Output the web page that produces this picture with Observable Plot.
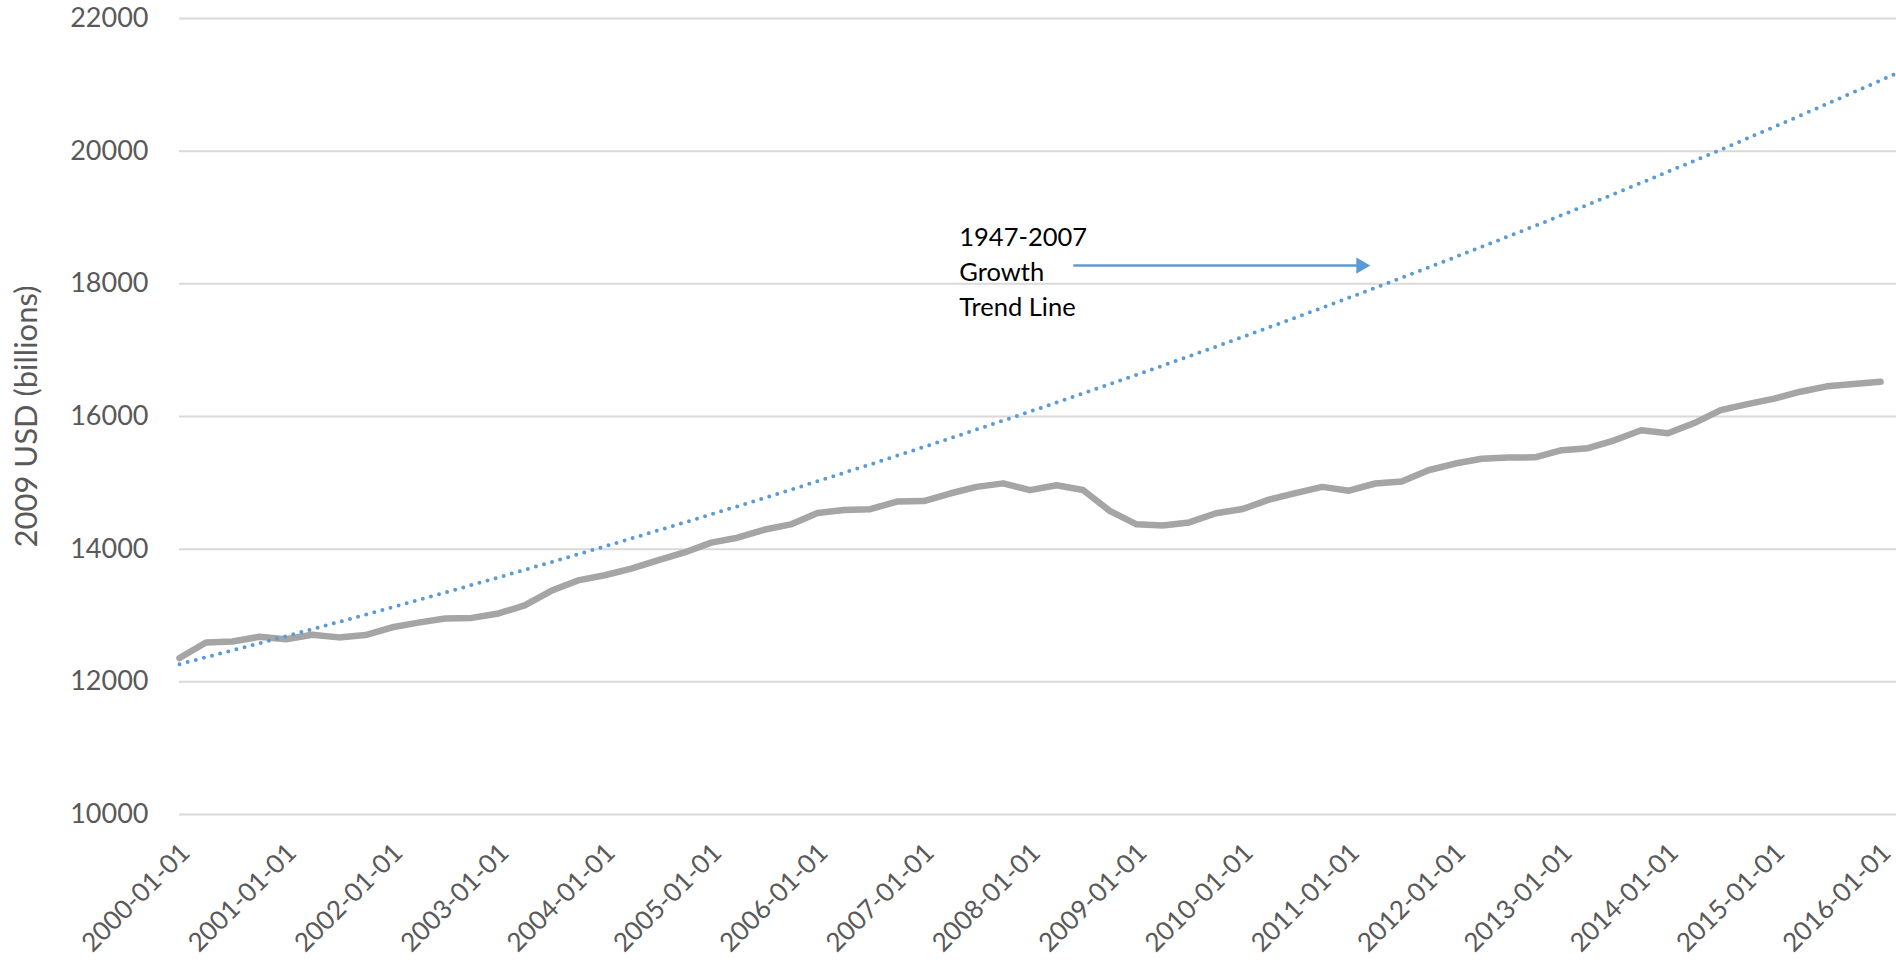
<!DOCTYPE html>
<html>
<head>
<meta charset="utf-8">
<script src="https://cdn.jsdelivr.net/npm/d3@7"></script>
<script src="https://cdn.jsdelivr.net/npm/@observablehq/plot@0.6"></script>
<style>
  html, body { margin: 0; padding: 0; background: #ffffff; overflow: hidden; }
  #chart svg { display: block; }
</style>
</head>
<body>
<div id="chart"></div>
<script>
// ---- Data ----
const quarterDates = [
  "2000-01-01","2000-04-01","2000-07-01","2000-10-01",
  "2001-01-01","2001-04-01","2001-07-01","2001-10-01",
  "2002-01-01","2002-04-01","2002-07-01","2002-10-01",
  "2003-01-01","2003-04-01","2003-07-01","2003-10-01",
  "2004-01-01","2004-04-01","2004-07-01","2004-10-01",
  "2005-01-01","2005-04-01","2005-07-01","2005-10-01",
  "2006-01-01","2006-04-01","2006-07-01","2006-10-01",
  "2007-01-01","2007-04-01","2007-07-01","2007-10-01",
  "2008-01-01","2008-04-01","2008-07-01","2008-10-01",
  "2009-01-01","2009-04-01","2009-07-01","2009-10-01",
  "2010-01-01","2010-04-01","2010-07-01","2010-10-01",
  "2011-01-01","2011-04-01","2011-07-01","2011-10-01",
  "2012-01-01","2012-04-01","2012-07-01","2012-10-01",
  "2013-01-01","2013-04-01","2013-07-01","2013-10-01",
  "2014-01-01","2014-04-01","2014-07-01","2014-10-01",
  "2015-01-01","2015-04-01","2015-07-01","2015-10-01",
  "2016-01-01"
];
const realGdp = [
  12359, 12592, 12608, 12679,
  12643, 12710, 12670, 12705,
  12822, 12893, 12956, 12964,
  13031, 13152, 13372, 13529,
  13607, 13706, 13831, 13950,
  14099, 14173, 14292, 14373,
  14546, 14590, 14603, 14717,
  14726, 14839, 14939, 14992,
  14890, 14963, 14892, 14577,
  14375, 14356, 14403, 14542,
  14605, 14746, 14846, 14939,
  14881, 14990, 15021, 15190,
  15291, 15362, 15381, 15384,
  15492, 15522, 15641, 15794,
  15747, 15901, 16095, 16187,
  16269, 16374, 16455, 16491,
  16525
];
const trendDates = [
  "2000-01-01","2001-01-01","2002-01-01","2003-01-01","2004-01-01",
  "2005-01-01","2006-01-01","2007-01-01","2008-01-01","2009-01-01",
  "2010-01-01","2011-01-01","2012-01-01","2013-01-01","2014-01-01",
  "2015-01-01","2016-01-01","2016-02-25"
];
const trendValues = [
  12266, 12688, 13124, 13575, 14042,
  14525, 15024, 15541, 16075, 16628,
  17200, 17791, 18403, 19035, 19690,
  20367, 21067, 21174
];
const xTickLabels = [
  "2000-01-01","2001-01-01","2002-01-01","2003-01-01","2004-01-01",
  "2005-01-01","2006-01-01","2007-01-01","2008-01-01","2009-01-01",
  "2010-01-01","2011-01-01","2012-01-01","2013-01-01","2014-01-01",
  "2015-01-01","2016-01-01"
];
const yTicks = [10000, 12000, 14000, 16000, 18000, 20000, 22000];
const xDomain = ["2000-01-01", "2016-02-25"];
const yDomain = [10000, 22000];
const yTitle = "2009 USD (billions)";
const annotationText = "1947-2007\nGrowth\nTrend Line";
const annotationAnchor = {date: "2007-05-03", value: 18215};
const arrowStart = {date: "2008-05-29", value: 18275};
const arrowShaftEnd = {date: "2011-02-13", value: 18275};
const arrowTip = {date: "2011-03-14", value: 18275};

// ---- Build tables ----
const parse = d3.utcParse("%Y-%m-%d");
const gdp = quarterDates.map((d, i) => ({date: parse(d), value: realGdp[i]}));
const trend = trendDates.map((d, i) => ({date: parse(d), value: trendValues[i]}));
const xTicks = xTickLabels.map(parse);
const ann = [{date: parse(annotationAnchor.date), value: annotationAnchor.value, text: annotationText}];
const shaft = [{x1: parse(arrowStart.date), y1: arrowStart.value, x2: parse(arrowShaftEnd.date), y2: arrowShaftEnd.value}];
const head = [{x: parse(arrowTip.date), y: arrowTip.value}];

const gray = "#595959";
const chart = Plot.plot({
  width: 1896,
  height: 965,
  marginLeft: 179,
  marginRight: 0,
  marginTop: 18,
  marginBottom: 151,
  style: {fontFamily: "Lato, 'Open Sans', sans-serif", background: "#ffffff", overflow: "visible"},
  x: {type: "utc", domain: xDomain.map(parse)},
  y: {domain: yDomain},
  marks: [
    Plot.gridY(yTicks, {stroke: "#D9D9D9", strokeOpacity: 1, strokeWidth: 2}),
    Plot.axisY(yTicks, {
      tickSize: 0, tickPadding: 31, fontSize: 27, fill: gray, label: null,
      tickFormat: d3.format("d")
    }),
    Plot.axisX(xTicks, {
      tickSize: 0, tickPadding: 34, tickRotate: -45, fontSize: 26, fill: gray, label: null,
      dx: 6, tickFormat: d3.utcFormat("%Y-%m-%d")
    }),
    Plot.text([yTitle], {
      frameAnchor: "left", dx: -152, rotate: -90, fontSize: 31, fill: gray,
      textAnchor: "middle", lineAnchor: "middle"
    }),
    Plot.line(gdp, {
      x: "date", y: "value", stroke: "#A5A5A5", strokeWidth: 6.5,
      strokeLinejoin: "round", strokeLinecap: "round"
    }),
    Plot.line(trend, {
      x: "date", y: "value", stroke: "#5B9BD5", strokeWidth: 4,
      strokeDasharray: "0 8.4", strokeLinecap: "round", curve: "natural"
    }),
    Plot.text(ann, {
      x: "date", y: "value", text: "text", textAnchor: "start", lineAnchor: "middle",
      lineHeight: 1.37, fontSize: 25.5, fill: "#000000"
    }),
    Plot.link(shaft, {
      x1: "x1", y1: "y1", x2: "x2", y2: "y2", stroke: "#5B9BD5", strokeWidth: 2.5
    }),
    Plot.dot(head, {
      x: "x", y: "y", symbol: "triangle", rotate: 90, r: 6,
      fill: "#5B9BD5", stroke: null, dx: -9
    })
  ]
});
document.getElementById("chart").appendChild(chart);
</script>
</body>
</html>
